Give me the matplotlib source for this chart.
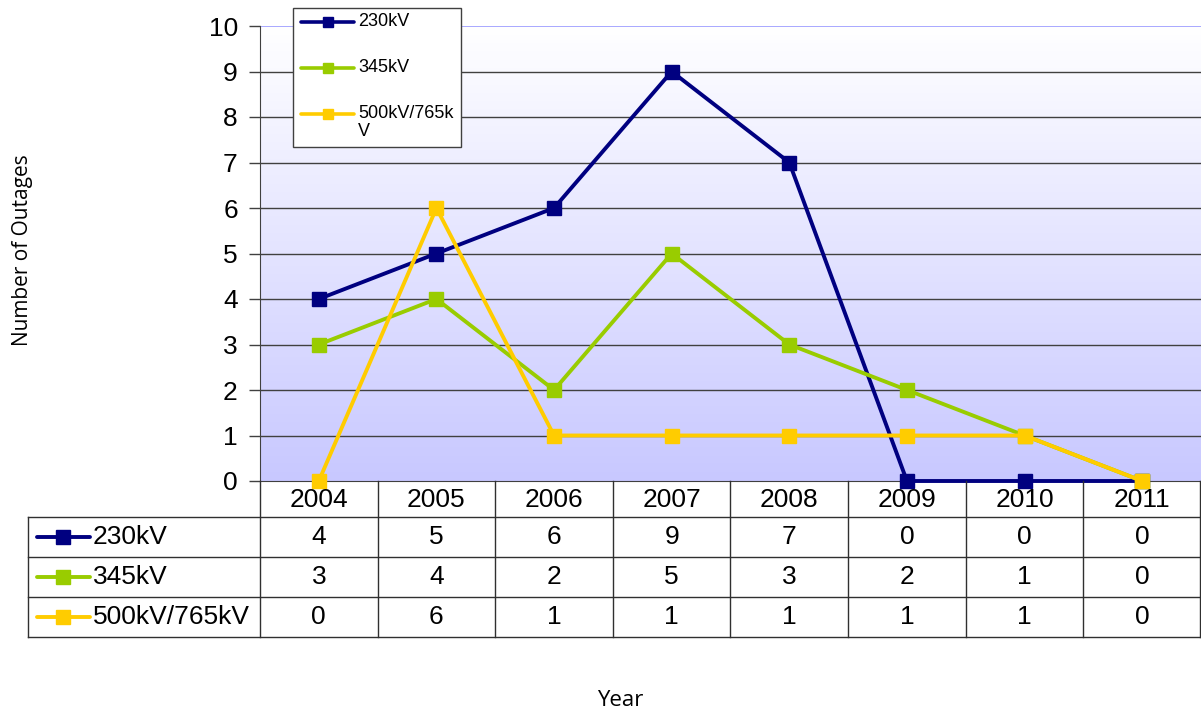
import numpy as np
import matplotlib.pyplot as plt
from matplotlib.lines import Line2D
from matplotlib.patches import Rectangle

plt.rcParams['font.family'] = ['Liberation Sans', 'DejaVu Sans']

## data
years = ["2004", "2005", "2006", "2007", "2008", "2009", "2010", "2011"]
kv230 = [4, 5, 6, 9, 7, 0, 0, 0]
kv345 = [3, 4, 2, 5, 3, 2, 1, 0]
kv500 = [0, 6, 1, 1, 1, 1, 1, 0]
series_names = ["230kV", "345kV", "500kV/765kV"]
legend_names = ["230kV", "345kV", "500kV/765k\nV"]
colors = ["#000080", "#99cc00", "#ffcc00"]
series = [kv230, kv345, kv500]

W, H = 1201, 715
fig = plt.figure(figsize=(W / 100, H / 100), dpi=100)

## plot area in pixels
left, right, top, bottom = 260, 1201, 26, 481


def fx(px):
    return px / W


def fy(py):
    return 1 - py / H


ax = fig.add_axes([fx(left), fy(bottom), fx(right - left), (bottom - top) / H])

## gradient background, white at top to lavender at bottom
grad = np.linspace(0, 1, 256).reshape(-1, 1)
c_top = np.array([1.0, 1.0, 1.0])
c_bot = np.array([200 / 255, 200 / 255, 1.0])
img = c_top + (c_bot - c_top) * grad[..., None]
ax.imshow(img, extent=[0, 1, 0, 1], transform=ax.transAxes, aspect="auto", zorder=0)

x = np.arange(len(years))
for vals, c in zip(series, colors):
    ax.plot(x, vals, color=c, lw=2.8, marker="s", markersize=10, clip_on=False, zorder=3)

ax.set_xlim(-0.5, len(years) - 0.5)
ax.set_ylim(0, 10)
ax.set_yticks(range(0, 11))
ax.tick_params(axis="y", labelsize=19, length=8, width=1, color="#404040", pad=8)
ax.set_xticks([])
for yv in range(1, 10):
    ax.axhline(yv, color="#404040", lw=1, zorder=1)
ax.axhline(10, color="#9999ff", lw=1.2, zorder=1)
ax.spines["top"].set_visible(False)
ax.spines["right"].set_visible(False)
ax.spines["left"].set_color("#404040")
ax.spines["bottom"].set_color("#404040")

## legend box (drawn by hand to match the layout)
fig.add_artist(Rectangle((fx(293), fy(147)), fx(461 - 293), (147 - 8) / H,
                         facecolor="white", edgecolor="#404040", lw=1, zorder=5))
leg_y = [22, 68, 114]
for yy, c, name in zip(leg_y, colors, legend_names):
    fig.add_artist(Line2D([fx(301), fx(354)], [fy(yy), fy(yy)], color=c, lw=2.6,
                          solid_capstyle="round", zorder=6))
    fig.add_artist(Line2D([fx(328)], [fy(yy)], color=c, marker="s", markersize=7, zorder=6))
    fig.text(fx(358), fy(yy - 9), name, ha="left", va="top", fontsize=13,
             linespacing=1.05, zorder=6)

## data table below the plot
colw = (right - left) / len(years)
row_top = [517, 557, 597]
row_h = 40
tbl_left = 28
lc = "#303030"

# horizontal lines
for yy in [517, 557, 597, 637]:
    fig.add_artist(Line2D([fx(tbl_left), fx(right - 1)], [fy(yy), fy(yy)], color=lc, lw=1))
# vertical lines
for k in range(len(years) + 1):
    xx = left + k * colw
    if k == len(years):
        xx = right - 1
    fig.add_artist(Line2D([fx(xx), fx(xx)], [fy(bottom), fy(637)], color=lc, lw=1))
fig.add_artist(Line2D([fx(tbl_left), fx(tbl_left)], [fy(517), fy(637)], color=lc, lw=1))

# year labels
for k, yr in enumerate(years):
    fig.text(fx(left + (k + 0.5) * colw), fy(500), yr, ha="center", va="center", fontsize=19)

# rows
for r, (vals, c, name) in enumerate(zip(series, colors, series_names)):
    yc = row_top[r] + row_h / 2
    fig.add_artist(Line2D([fx(37), fx(90)], [fy(yc), fy(yc)], color=c, lw=2.8,
                          solid_capstyle="round"))
    fig.add_artist(Line2D([fx(63)], [fy(yc)], color=c, marker="s", markersize=10))
    fig.text(fx(93), fy(yc), name, ha="left", va="center", fontsize=19)
    for k, v in enumerate(vals):
        fig.text(fx(left + (k + 0.5) * colw), fy(yc), str(v), ha="center", va="center", fontsize=19)

## axis titles
fig.text(fx(620), fy(701), "Year", ha="center", va="center", fontsize=16, family="Open Sans")
fig.text(fx(23), fy(250), "Number of Outages", ha="center", va="center", rotation=90,
         fontsize=15, family="Open Sans")

fig.savefig("out.png", dpi=100)
